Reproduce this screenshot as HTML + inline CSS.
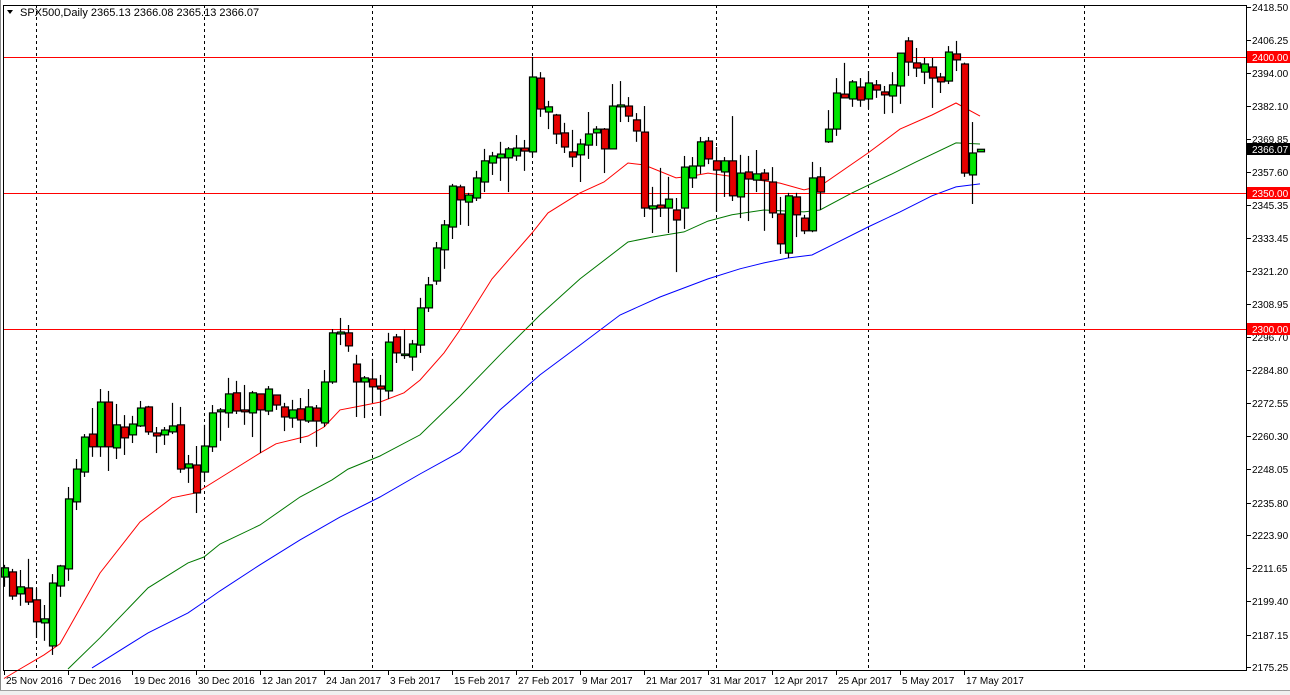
<!DOCTYPE html>
<html><head><meta charset="utf-8"><style>
html,body{margin:0;padding:0;background:#fff;width:1290px;height:695px;overflow:hidden}
svg{display:block;font-family:"Liberation Sans","DejaVu Sans",sans-serif}
</style></head><body>
<svg id="chart" width="1290" height="695" xmlns="http://www.w3.org/2000/svg">
<rect x="0" y="0" width="1290" height="695" fill="#fff"/>
<g id="grid"></g>
<g id="mas"></g>
<g id="levels"></g>
<g id="candles"></g>
<g id="axes"></g>
<text x="20" y="16" font-size="11" fill="#000">SPX500,Daily  2365.13 2366.08 2365.13 2366.07</text>
<path d="M7,10 L13,10 L10,14 Z" fill="#000"/>
</svg>
<script>
const opens  = [2208.4,2210.3,2202.2,2204.4,2200.0,2191.5,2183.0,2205.1,2211.4,2236.1,2247.1,2261.1,2256.4,2272.9,2256.0,2263.7,2260.8,2264.1,2271.1,2261.5,2260.8,2261.9,2264.5,2248.6,2249.7,2247.1,2256.4,2269.3,2268.9,2276.3,2270.0,2268.9,2275.9,2269.6,2275.5,2271.1,2267.0,2270.4,2265.9,2270.7,2265.2,2280.3,2298.0,2298.4,2286.9,2280.3,2281.4,2278.8,2277.0,2296.9,2290.2,2289.5,2293.9,2307.6,2317.5,2329.0,2337.4,2352.2,2346.6,2348.1,2354.0,2361.0,2362.9,2362.9,2363.6,2366.5,2365.1,2392.3,2379.8,2378.7,2372.1,2365.1,2364.0,2367.6,2372.1,2373.5,2366.2,2381.7,2382.0,2376.9,2372.4,2344.1,2345.5,2344.4,2343.7,2344.4,2355.5,2359.9,2369.1,2361.8,2357.7,2361.8,2348.5,2357.7,2354.7,2357.3,2354.0,2342.2,2327.8,2348.5,2340.7,2336.0,2355.9,2368.8,2373.5,2386.4,2384.6,2389.0,2384.6,2389.8,2387.2,2385.7,2389.4,2406.0,2397.9,2394.5,2396.4,2392.7,2391.2,2401.2,2397.5,2356.6,2365.13];
const highs  = [2212.9,2211.4,2211.0,2215.1,2204.4,2198.1,2209.5,2212.9,2241.6,2251.9,2261.1,2270.7,2277.7,2277.0,2272.2,2268.1,2267.8,2273.3,2271.5,2263.7,2263.7,2272.6,2271.1,2253.4,2256.7,2264.5,2271.8,2270.7,2281.8,2280.7,2279.2,2277.0,2275.9,2278.8,2275.5,2272.6,2273.7,2274.4,2277.7,2271.8,2284.7,2299.8,2303.9,2301.3,2290.3,2282.5,2288.8,2282.9,2298.4,2298.0,2299.5,2295.8,2311.3,2319.0,2331.9,2340.0,2353.3,2353.0,2350.0,2358.1,2366.2,2365.1,2368.8,2366.9,2371.3,2369.5,2400.1,2394.5,2383.9,2379.1,2375.8,2373.2,2369.9,2379.8,2374.6,2373.9,2390.1,2391.2,2385.3,2379.4,2382.0,2352.2,2359.2,2355.9,2348.1,2363.6,2363.2,2370.6,2370.6,2366.9,2363.2,2378.3,2364.0,2363.6,2365.8,2358.8,2359.5,2348.5,2350.0,2350.0,2341.9,2361.4,2359.5,2380.5,2392.3,2397.9,2391.6,2392.3,2394.9,2391.6,2389.4,2394.5,2401.6,2407.4,2403.4,2399.7,2399.7,2394.2,2404.1,2406.0,2398.0,2376.1,2366.08];
const lows   = [2204.8,2200.0,2197.8,2198.1,2186.0,2184.9,2179.7,2201.1,2207.0,2233.1,2245.3,2252.7,2252.7,2247.5,2251.9,2253.4,2257.8,2263.7,2260.8,2254.1,2257.1,2261.1,2246.8,2243.1,2232.0,2243.5,2254.5,2258.6,2263.4,2268.5,2264.5,2260.0,2254.1,2268.1,2270.0,2262.2,2263.4,2257.8,2265.2,2256.4,2263.7,2279.6,2293.9,2291.4,2267.4,2267.0,2272.6,2267.8,2274.0,2287.3,2288.8,2284.4,2291.0,2306.1,2316.1,2322.0,2333.0,2338.2,2337.8,2347.0,2350.3,2356.6,2354.4,2350.3,2361.8,2358.1,2363.2,2378.0,2373.5,2368.0,2364.7,2359.5,2354.0,2362.5,2367.3,2357.3,2366.0,2376.1,2376.1,2368.8,2341.1,2335.2,2341.1,2335.2,2320.8,2336.7,2351.8,2357.0,2360.6,2343.0,2348.5,2347.0,2340.7,2339.6,2350.3,2336.0,2340.7,2327.5,2326.0,2333.7,2334.8,2335.5,2343.7,2368.4,2371.0,2384.8,2381.7,2381.7,2380.9,2385.0,2379.1,2379.4,2382.8,2393.1,2392.7,2390.1,2381.3,2386.8,2390.1,2394.9,2355.9,2345.9,2365.13];
const closes = [2211.8,2201.4,2204.8,2199.2,2191.9,2193.0,2206.2,2212.5,2237.2,2248.2,2260.0,2256.4,2272.9,2256.4,2264.5,2259.7,2264.8,2270.7,2261.9,2260.4,2262.6,2264.1,2248.2,2250.1,2239.4,2256.7,2268.9,2270.0,2275.9,2269.6,2269.3,2276.3,2270.0,2277.7,2271.8,2267.4,2270.0,2266.3,2271.1,2265.9,2280.3,2298.4,2298.7,2293.6,2280.3,2281.8,2278.5,2277.7,2295.0,2291.0,2290.6,2294.3,2307.6,2316.1,2329.7,2338.2,2352.5,2347.4,2349.2,2355.5,2361.8,2363.6,2364.3,2366.2,2366.5,2365.4,2392.7,2380.9,2381.7,2371.7,2366.9,2363.2,2368.0,2371.7,2373.5,2366.2,2382.0,2382.4,2378.3,2372.8,2344.4,2345.2,2344.4,2347.7,2340.0,2359.5,2359.9,2368.8,2362.5,2358.4,2361.8,2348.9,2357.3,2355.1,2357.0,2354.7,2342.6,2331.2,2348.9,2341.9,2336.0,2355.5,2350.3,2373.5,2386.8,2385.0,2390.9,2384.2,2390.5,2387.9,2386.1,2389.8,2401.5,2398.2,2396.0,2397.5,2392.3,2390.9,2401.9,2399.0,2357.3,2364.7,2366.07];
const dateLabels = ["25 Nov 2016","7 Dec 2016","19 Dec 2016","30 Dec 2016","12 Jan 2017","24 Jan 2017","3 Feb 2017","15 Feb 2017","27 Feb 2017","9 Mar 2017","21 Mar 2017","31 Mar 2017","12 Apr 2017","25 Apr 2017","5 May 2017","17 May 2017"];
const dateLabelBars = [0,8,16,24,32,40,48,56,64,72,80,88,96,104,112,120];
const monthStartBars = [4,25,46,66,89,108,135];
const priceTicks = [2418.50,2406.25,2394.00,2382.10,2369.85,2357.60,2345.35,2333.45,2321.20,2308.95,2296.70,2284.80,2272.55,2260.30,2248.05,2235.80,2223.90,2211.65,2199.40,2187.15,2175.25];
const levelValues = [2400.00,2350.00,2300.00];
const redMaBars = [0,2,5,7,12,17,21,24,27,32,34,38,40,42,44,47,50,52,55,57,61,66,68,72,75,78,80,84,86,88,97,100,102,108,112,116,119,122];
const redMaVals = [2171.0,2174.5,2179.7,2183.8,2209.9,2228.7,2237.6,2239.4,2244.9,2254.1,2257.5,2260.4,2263.7,2270.0,2271.1,2272.9,2276.3,2281.0,2291.0,2299.5,2318.3,2335.2,2342.6,2350.0,2354.0,2361.0,2360.3,2355.5,2356.2,2357.3,2353.6,2351.1,2352.5,2364.7,2373.5,2378.7,2383.1,2378.3];
const greenMaBars = [8,12,18,23,25,27,32,37,41,43,47,52,57,62,67,72,78,81,85,88,91,95,100,102,106,111,114,119,122];
const greenMaVals = [2174.5,2186.0,2204.4,2213.6,2215.8,2220.6,2227.6,2237.9,2244.2,2248.2,2253.0,2260.8,2275.1,2290.3,2305.0,2318.3,2331.9,2333.7,2335.6,2339.6,2341.9,2343.7,2343.0,2343.7,2350.0,2357.0,2361.4,2368.4,2368.0];
const blueMaBars = [11,18,23,25,27,32,37,42,47,52,57,62,67,72,77,82,88,92,95,98,101,104,108,112,116,119,122];
const blueMaVals = [2174.9,2187.8,2195.2,2199.2,2203.3,2212.9,2222.1,2230.5,2237.9,2246.4,2254.5,2270.0,2282.9,2293.9,2305.0,2311.6,2318.3,2322.0,2324.2,2326.0,2327.1,2331.5,2337.4,2343.0,2348.9,2352.2,2353.3];
const lastPrice = 2366.07;

const NS="http://www.w3.org/2000/svg";
const L=4,R=1247,T=5,B=670,PMAX=2418.5,PMIN=2175.25,YTOP=7,YBOT=667;
function yScale(p){return YTOP+(PMAX-p)*(YBOT-YTOP)/(PMAX-PMIN);}
function xScale(i){return 4+8*i;}
function mk(tag,attrs,parent){const e=document.createElementNS(NS,tag);for(const k in attrs)e.setAttribute(k,attrs[k]);parent.appendChild(e);return e;}
const svg=document.getElementById('chart');
const grid=document.getElementById('grid'),mas=document.getElementById('mas'),lv=document.getElementById('levels'),cg=document.getElementById('candles'),ax=document.getElementById('axes');

// month grid
monthStartBars.forEach(b=>{
  const x=xScale(b)+0.5;
  const ln=mk('line',{x1:x,x2:x,y1:T,y2:B,stroke:'#000','stroke-width':1,'stroke-dasharray':'3,3'},grid);
  
  
});
// MAs
function drawMa(bars,vals,color,name){
  const pts=bars.map((b,i)=>xScale(b)+','+yScale(vals[i]).toFixed(1)).join(' ');
  const pl=mk('polyline',{points:pts,fill:'none',stroke:color,'stroke-width':1},mas);
  
  
}
drawMa(redMaBars,redMaVals,'#ff0000','ma-red');
drawMa(greenMaBars,greenMaVals,'#007800','ma-green');
drawMa(blueMaBars,blueMaVals,'#0000ff','ma-blue');
// levels
levelValues.forEach(v=>{
  const y=Math.round(yScale(v))+0.5;
  const ln=mk('line',{x1:L,x2:R,y1:y,y2:y,stroke:'#ff0000','stroke-width':1},lv);
  
  
});
// candles
opens.forEach((o,i)=>{
  const c=closes[i],x=xScale(i);
  const g=mk('g',{},cg);
  
  
  mk('line',{x1:x+0.5,x2:x+0.5,y1:yScale(highs[i]),y2:yScale(lows[i]),stroke:'#000','stroke-width':1.2},g);
  const top=yScale(Math.max(o,c)),bot=yScale(Math.min(o,c));
  mk('rect',{x:x-2.5,y:top,width:7,height:Math.max(1.5,bot-top),fill:c>=o?'#00e600':'#e60000',stroke:'#000','stroke-width':1.2},g);
});
// frame
mk('rect',{x:L-0.5,y:T+0.5,width:R-L,height:B-T,fill:'none',stroke:'#000','stroke-width':1},ax);
mk('line',{x1:0.5,x2:0.5,y1:0,y2:690,stroke:'#888','stroke-width':1},ax);
mk('rect',{x:0,y:690,width:1290,height:5,fill:'#f0f0f0'},ax);
mk('line',{x1:0,x2:1290,y1:690.5,y2:690.5,stroke:'#a0a0a0','stroke-width':1},ax);
// y ticks
priceTicks.forEach(p=>{
  const y=Math.round(yScale(p));
  mk('line',{x1:R,x2:R+4,y1:y+0.5,y2:y+0.5,stroke:'#000'},ax);
  const t=mk('text',{x:R+5,y:y+4,'font-size':10,fill:'#000'},ax);
  t.textContent=p.toFixed(2);
  
  
});
// level labels
levelValues.forEach(v=>{
  const y=Math.round(yScale(v));
  mk('rect',{x:R,y:y-6,width:43,height:12,fill:'#ff0000'},ax);
  const t=mk('text',{x:R+5,y:y+4,'font-size':10,fill:'#fff'},ax);
  t.textContent=v.toFixed(2);
  
  
});
{
  const y=Math.round(yScale(lastPrice));
  mk('rect',{x:R,y:y-6,width:43,height:12,fill:'#000'},ax);
  const t=mk('text',{x:R+5,y:y+4,'font-size':10,fill:'#fff'},ax);
  t.textContent=lastPrice.toFixed(2);
  
  
}
// x labels
dateLabels.forEach((d,i)=>{
  const x=xScale(dateLabelBars[i]);
  mk('line',{x1:x+0.5,x2:x+0.5,y1:B,y2:B+5,stroke:'#000'},ax);
  const t=mk('text',{x:x+2,y:B+14,'font-size':10,fill:'#000'},ax);
  t.textContent=d;
  
  
});
</script>
</body></html>
